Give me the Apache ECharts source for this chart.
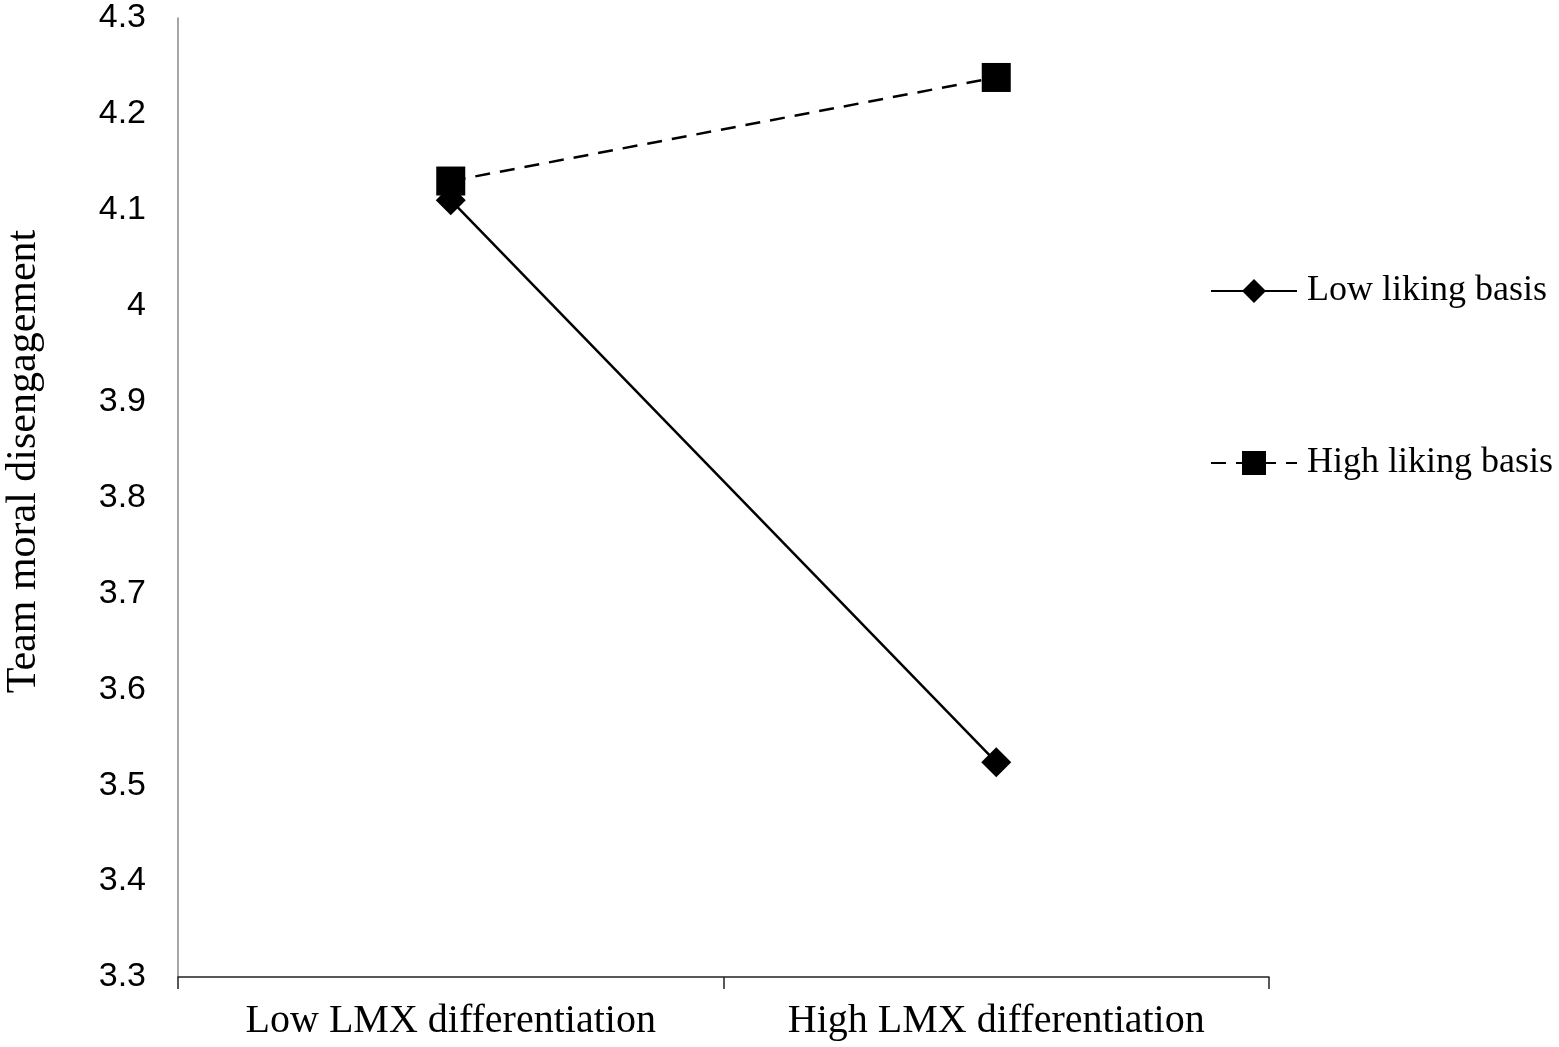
<!DOCTYPE html>
<html>
<head>
<meta charset="utf-8">
<script src="https://cdn.jsdelivr.net/npm/echarts@6/dist/echarts.min.js"></script>
<style>
html,body{margin:0;padding:0;background:#fff;}
#chart{width:1559px;height:1047px;}
</style>
</head>
<body>
<div id="chart"></div>
<script>
const categories = ['Low LMX differentiation', 'High LMX differentiation'];
const lowLiking = [4.11, 3.524];
const highLiking = [4.13, 4.238];
const yTicks = { min: 3.3, max: 4.3, interval: 0.1 };

const chart = echarts.init(document.getElementById('chart'), null, { renderer: 'canvas' });
chart.setOption({
  animation: false,
  backgroundColor: '#ffffff',
  grid: { left: 178, right: 290, top: 18, bottom: 70, containLabel: false, outerBoundsMode: 'none' },
  legend: {
    orient: 'vertical',
    left: 1205,
    top: 268,
    itemWidth: 86,
    itemHeight: 30,
    itemGap: 136,
    textStyle: { fontFamily: 'Liberation Serif', fontSize: 36, color: '#000', padding: [0, 0, 0, 5] },
    data: ['Low liking basis', 'High liking basis']
  },
  xAxis: {
    type: 'category',
    data: categories,
    boundaryGap: true,
    axisLine: { lineStyle: { color: '#222', width: 1.5 } },
    axisTick: { show: true, length: 12, lineStyle: { color: '#222', width: 1.5 } },
    axisLabel: { fontFamily: 'Liberation Serif', fontSize: 40, color: '#000', margin: 24 }
  },
  yAxis: {
    type: 'value',
    min: yTicks.min,
    max: yTicks.max,
    interval: yTicks.interval,
    name: 'Team moral disengagement',
    nameLocation: 'middle',
    nameGap: 133,
    nameTextStyle: { fontFamily: 'Liberation Serif', fontSize: 42, color: '#000', padding: [0, 0, 0, 72] },
    splitLine: { show: false },
    axisLine: { show: true, lineStyle: { color: '#888', width: 1.5 } },
    axisTick: { show: false },
    axisLabel: {
      fontFamily: 'Liberation Sans', fontSize: 34, color: '#000', margin: 32,
      formatter: v => String(Math.round(v * 10) / 10)
    }
  },
  series: [
    {
      name: 'Low liking basis',
      type: 'line',
      data: lowLiking,
      symbol: 'diamond',
      symbolSize: 30,
      itemStyle: { color: '#000' },
      lineStyle: { color: '#000', width: 2.5, type: 'solid' },
      z: 2
    },
    {
      name: 'High liking basis',
      type: 'line',
      data: highLiking,
      symbol: 'rect',
      symbolSize: 29,
      itemStyle: { color: '#000' },
      lineStyle: { color: '#000', width: 2.5, type: [15, 10] },
      z: 3
    }
  ]
});
</script>
</body>
</html>
